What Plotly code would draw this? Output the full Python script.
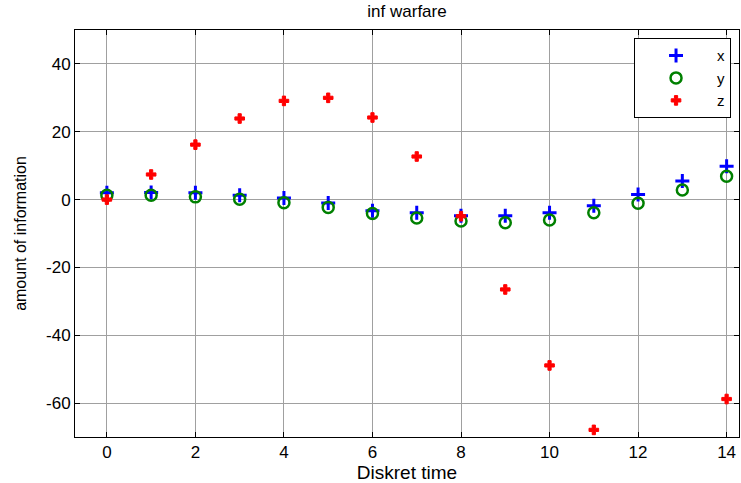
import plotly.graph_objects as go

# Discrete time steps and the three information components
t = list(range(15))
x_vals = [2.0, 2.1, 2.0, 1.3, 0.5, -1.0, -3.3, -3.9, -4.8, -4.8, -3.9, -1.8, 1.5, 5.5, 9.8]
y_vals = [1.3, 1.3, 0.8, 0.1, -0.9, -2.3, -4.1, -5.4, -6.3, -6.8, -6.0, -3.9, -1.1, 2.8, 6.9]
z_vals = [0.0, 7.4, 16.2, 23.9, 29.1, 30.0, 24.2, 12.7, -4.9, -26.5, -48.9, -67.9, None, None, -58.8]

x_ticks = [0, 2, 4, 6, 8, 10, 12, 14]
y_ticks = [-60, -40, -20, 0, 20, 40]
y_tick_labels = ["-60", "-40", "-20", "0", "20", "40"]

FONT = "Liberation Sans, Arial"

fig = go.Figure()
fig.add_trace(go.Scatter(
    x=t, y=x_vals, mode="markers", name="x",
    marker=dict(symbol="cross-thin", size=10, color="#0000ff",
                line=dict(width=3, color="#0000ff")),
))
fig.add_trace(go.Scatter(
    x=t, y=y_vals, mode="markers", name="y",
    marker=dict(symbol="circle-open", size=11, color="#008000",
                line=dict(width=2.5, color="#008000")),
))
fig.add_trace(go.Scatter(
    x=t, y=z_vals, mode="markers", name="z",
    marker=dict(symbol="cross", size=8, color="#ff0000",
                line=dict(width=1, color="#ff0000")),
))

axis_common = dict(
    showline=True, linecolor="black", linewidth=1, mirror="ticks",
    ticks="inside", ticklen=5, tickcolor="black",
    showgrid=True, gridcolor="#a0a0a0", gridwidth=1,
    zeroline=False,
    tickfont=dict(family=FONT, size=17, color="black"),
)

fig.update_layout(
    width=741, height=483,
    margin=dict(l=75, r=2, t=30, b=46),
    paper_bgcolor="white", plot_bgcolor="white",
    title=dict(text="inf warfare", x=0.5, xref="paper", y=1, yref="container",
               yanchor="top", pad=dict(t=5),
               font=dict(family=FONT, size=17, color="black")),
    xaxis=dict(axis_common, range=[-0.72, 14.28], tickvals=x_ticks,
               title=dict(text="Diskret time", standoff=4,
                          font=dict(family=FONT, size=19, color="black"))),
    yaxis=dict(axis_common, range=[-70, 50], tickvals=y_ticks, ticktext=y_tick_labels,
               title=dict(text="amount of information", standoff=15,
                          font=dict(family=FONT, size=16, color="black"))),
    legend=dict(x=0.988, y=0.98, xanchor="right", yanchor="top",
                bgcolor="white", bordercolor="black", borderwidth=1,
                itemwidth=72, tracegroupgap=0,
                font=dict(family=FONT, size=15, color="black")),
    showlegend=True,
)

fig.write_html("out.html")
